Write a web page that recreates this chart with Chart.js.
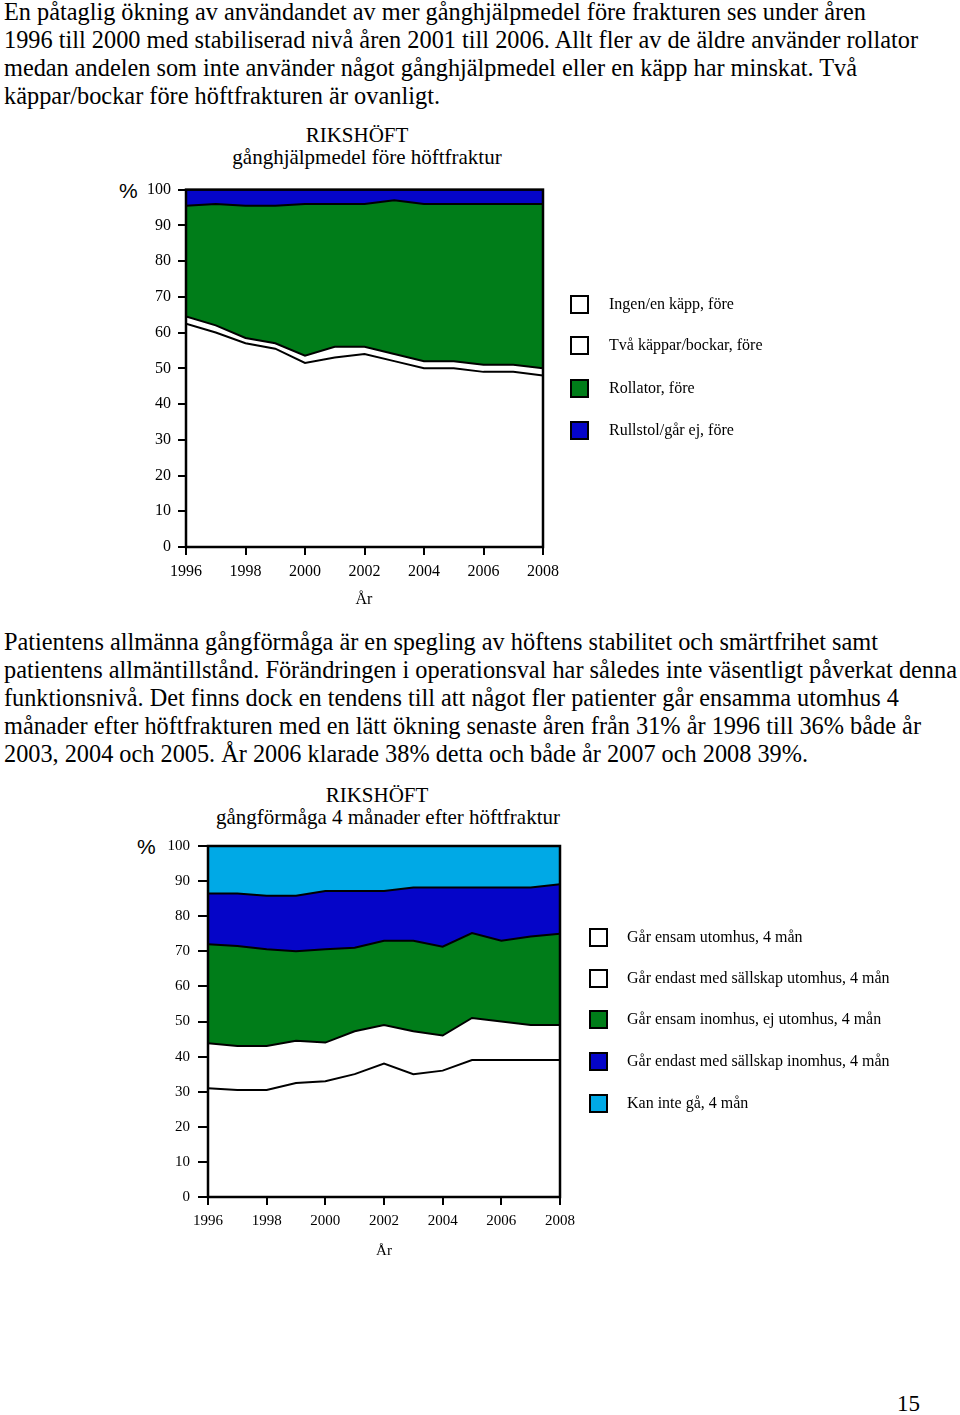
<!DOCTYPE html>
<html><head><meta charset="utf-8">
<script src="https://cdn.jsdelivr.net/npm/chart.js@4.4.0/dist/chart.umd.min.js"></script>
<style>
body{margin:0;background:#fff;width:960px;height:1415px;position:relative;overflow:hidden;font-family:'Liberation Serif','Times New Roman',serif;color:#000}
.para{position:absolute;left:4px;font-family:'Liberation Serif','Times New Roman',serif}
.para div{white-space:nowrap;height:28px;line-height:28px;font-size:25.5px;transform-origin:0 50%;display:block;width:max-content}
.title{position:absolute;font-size:21px;white-space:nowrap;transform:translate(-50%,-50%);line-height:1}
.pct{position:absolute;font-family:'Liberation Sans',Arial,sans-serif;font-size:21px;transform:translate(0,-50%);line-height:1}
.leg{position:absolute;font-size:16px;white-space:nowrap;line-height:1}
.leg span.box{position:absolute;width:15px;height:15px;border:2px solid #000;left:0;top:0}
.leg span.txt{position:absolute;top:9px;transform:translateY(-50%)}
.xt{position:absolute;font-size:16px;transform:translate(-50%,-50%);line-height:1}
canvas{position:absolute}
</style></head>
<body>
<div class="para" style="top:-2px">
<div data-w="862">En påtaglig ökning av användandet av mer gånghjälpmedel före frakturen ses under åren</div>
<div data-w="914">1996 till 2000 med stabiliserad nivå åren 2001 till 2006. Allt fler av de äldre använder rollator</div>
<div data-w="853">medan andelen som inte använder något gånghjälpmedel eller en käpp har minskat. Två</div>
<div data-w="436">käppar/bockar före höftfrakturen är ovanligt.</div>
</div>

<div class="title" style="left:357px;top:135px">RIKSHÖFT</div>
<div class="title" style="left:367px;top:157px">gånghjälpmedel före höftfraktur</div>
<div class="pct" style="left:119px;top:190px">%</div>
<canvas id="c1" width="480" height="447" style="left:100px;top:173px"></canvas>
<div class="xt" style="left:364px;top:599px">År</div>
<div id="leg1"></div>

<div class="para" style="top:628px">
<div data-w="874">Patientens allmänna gångförmåga är en spegling av höftens stabilitet och smärtfrihet samt</div>
<div data-w="953">patientens allmäntillstånd. Förändringen i operationsval har således inte väsentligt påverkat denna</div>
<div data-w="895">funktionsnivå. Det finns dock en tendens till att något fler patienter går ensamma utomhus 4</div>
<div data-w="917">månader efter höftfrakturen med en lätt ökning senaste åren från 31% år 1996 till 36% både år</div>
<div data-w="804">2003, 2004 och 2005. År 2006 klarade 38% detta och både år 2007 och 2008 39%.</div>
</div>

<div class="title" style="left:377px;top:795px">RIKSHÖFT</div>
<div class="title" style="left:388px;top:817px">gångförmåga 4 månader efter höftfraktur</div>
<div class="pct" style="left:137px;top:846px">%</div>
<canvas id="c2" width="470" height="441" style="left:120px;top:829px"></canvas>
<div class="xt" style="left:384px;top:1250px;font-size:15px">År</div>
<div id="leg2"></div>

<div style="position:absolute;left:897px;top:1392px;font-size:23px;line-height:1">15</div>

<script>
// ---- data ----
const years = [1996,1997,1998,1999,2000,2001,2002,2003,2004,2005,2006,2007,2008];

// Chart 1: gånghjälpmedel före höftfraktur (%)
const ingenKapp   = [62.5,60,57,55.5,51.5,53,54,52,50,50,49,49,48];
const tvaKappar   = [2,2,1.5,1.5,2,3,2,2,2,2,2,2,2];
const rollator    = [31,34,37,38.5,42.5,40,40,43,44,44,45,45,46];
const rullstol    = [4.5,4,4.5,4.5,4,4,4,3,4,4,4,4,4];
const labels1 = ['Ingen/en käpp, före','Två käppar/bockar, före','Rollator, före','Rullstol/går ej, före'];

// Chart 2: gångförmåga 4 månader efter höftfraktur (%)
const ensamUte     = [31,30.5,30.5,32.5,33,35,38,35,36,39,39,39,39];
const sallskapUte  = [12.8,12.5,12.5,12,11,12.2,11,12.2,10,12,11,10,10];
const ensamInne    = [28.2,28.5,27.6,25.5,26.6,23.8,24,25.8,25.3,24.2,23,25.2,26];
const sallskapInne = [14.5,15,15.2,15.8,16.6,16.2,14.2,15.2,16.9,13,15.2,14,14.1];
const kanInteGa    = [13.5,13.5,14.2,14.2,12.8,12.8,12.8,11.8,11.8,11.8,11.8,11.8,10.9];
const labels2 = ['Går ensam utomhus, 4 mån','Går endast med sällskap utomhus, 4 mån','Går ensam inomhus, ej utomhus,  4 mån','Går endast med sällskap inomhus, 4 mån','Kan inte gå, 4 mån'];

const yTicks = [0,10,20,30,40,50,60,70,80,90,100];
const xTicks = [1996,1998,2000,2002,2004,2006,2008];

// ---- styles ----
const WHITE='#ffffff', GREEN='#007d19', BLUE='#0505c8', LBLUE='#00a9e6';
const colors1=[WHITE,WHITE,GREEN,BLUE];
const colors2=[WHITE,WHITE,GREEN,BLUE,LBLUE];

function fitText(){
  document.querySelectorAll('.para div').forEach(d=>{
    d.style.transform='none';
    const w=d.getBoundingClientRect().width;
    const t=+d.dataset.w;
    d.style.transform='scaleX('+(t/w)+')';
  });
}

function legend(el,labels,colors,x,ys,tx){
  const c=document.getElementById(el);
  labels.forEach((l,i)=>{
    const d=document.createElement('div');
    d.className='leg';
    d.style.left=x+'px'; d.style.top=ys[i]+'px';
    d.innerHTML='<span class="box" style="background:'+colors[i]+'"></span><span class="txt" style="left:'+tx+'px">'+l+'</span>';
    c.appendChild(d);
  });
}
legend('leg1',labels1,colors1,570,[295,336,379,421],39);
legend('leg2',labels2,colors2,589,[928,969,1010,1052,1094],38);

const frame={id:'frame',afterDatasetsDraw(chart){
  const a=chart.chartArea,ctx=chart.ctx;
  ctx.save();ctx.strokeStyle='#000';ctx.lineWidth=2.5;
  ctx.strokeRect(a.left,a.top,a.right-a.left,a.bottom-a.top);
  ctx.restore();
}};

function build(id,series,labels,colors,opt){
  const datasets=series.map((s,i)=>({
    label:labels[i],
    data:years.map((y,j)=>({x:y,y:s[j]})),
    backgroundColor:colors[i],
    borderColor:'#000',
    borderWidth:2,
    pointRadius:0,
    tension:0,
    fill:i===0?'origin':'-1'
  }));
  new Chart(document.getElementById(id),{
    type:'line',
    data:{datasets},
    plugins:[frame],
    options:{
      responsive:false,animation:false,
      layout:{padding:{top:0,right:opt.pr,left:0,bottom:0}},
      plugins:{legend:{display:false},tooltip:{enabled:false}},
      scales:{
        x:{type:'linear',min:1996,max:2008,
          afterBuildTicks(s){s.ticks=xTicks.map(v=>({value:v}));},
          afterFit(s){s.height=opt.xh;},
          border:{display:false},
          grid:{drawOnChartArea:false,drawTicks:true,tickLength:8,color:'#000',lineWidth:2},
          ticks:{padding:opt.xp,color:'#000',font:{family:'Liberation Serif',size:opt.fs},callback:v=>String(v),maxRotation:0,autoSkip:false}
        },
        y:{stacked:true,min:0,max:100,
          afterBuildTicks(s){s.ticks=yTicks.map(v=>({value:v}));},
          afterFit(s){s.width=opt.yw;},
          border:{display:false},
          grid:{drawOnChartArea:false,drawTicks:true,tickLength:opt.tl,color:'#000',lineWidth:2},
          ticks:{padding:opt.yp,color:'#000',font:{family:'Liberation Serif',size:opt.fs},callback:v=>String(v)}
        }
      }
    }
  });
}
function draw(){
  fitText();
  build('c1',[ingenKapp,tvaKappar,rollator,rullstol],labels1,colors1,{pr:37,xh:73,yw:86,fs:16,xp:7,yp:7,tl:8});
  build('c2',[ensamUte,sallskapUte,ensamInne,sallskapInne,kanInteGa],labels2,colors2,{pr:30,xh:73,yw:88,fs:15,xp:7,yp:8,tl:10});
}
Promise.all([
  document.fonts.load('16px "Liberation Serif"'),
  document.fonts.load('15px "Liberation Serif"'),
  document.fonts.load('25px "Liberation Serif"')
]).then(draw,draw);
</script>
</body></html>
